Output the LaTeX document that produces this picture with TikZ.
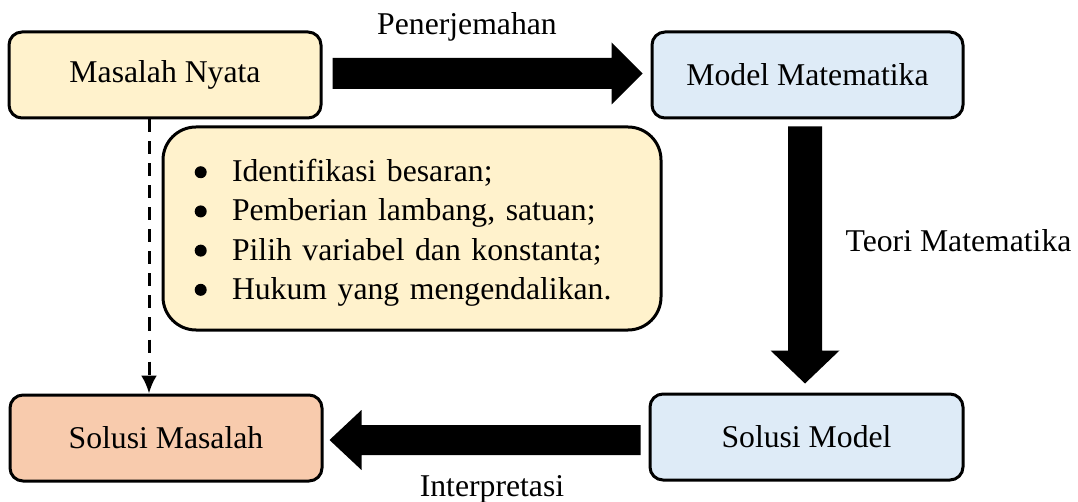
\documentclass[tikz,border=0pt]{standalone}
\usepackage{fontspec}
\setmainfont{Liberation Serif}
\usetikzlibrary{calc,arrows.meta}
\definecolor{yellowc}{HTML}{FFF2CC}
\definecolor{bluec}{HTML}{DEEBF7}
\definecolor{orangec}{HTML}{F8CBAD}
\newcommand{\bulitem}{\makebox[38.5pt][l]{\hspace{1.2pt}\tikz[baseline=0pt]{\fill[black] (0pt,9.5pt) circle[radius=6pt];}}}
\begin{document}
\begin{tikzpicture}[x=1pt,y=-1pt,
  box/.style={draw=black, line width=3pt, rounded corners=13pt, minimum width=312pt, minimum height=86pt, inner sep=0pt, font=\fontsize{31.7}{35}\selectfont},
  lbl/.style={font=\fontsize{31.7}{35}\selectfont, inner sep=0pt, anchor=base},
  fat/.style={fill=black}]
\useasboundingbox (0,0) rectangle (1078,502);
\node[box, fill=yellowc] (mn) at (165,75) {Masalah Nyata};
\node[box, fill=bluec, minimum width=311pt] (mm) at (807.5,75) {Model Matematika};
\node[box, fill=bluec, minimum width=313pt] (sm) at (806.5,437) {Solusi Model};
\node[box, fill=orangec] (ss) at (166,438) {Solusi Masalah};
\node[draw=black, line width=3pt, fill=yellowc, rounded corners=33pt, minimum width=498pt, minimum height=203pt, inner xsep=30.5pt, inner ysep=0pt, text width=437pt, align=left, font=\fontsize{31.7}{39.2}\selectfont] (bx) at (412,228.5)
  {\rule{0pt}{30.9pt}\bulitem Identifikasi besaran;\\
   \bulitem Pemberian lambang, satuan;\\
   \bulitem Pilih variabel dan konstanta;\\
   \bulitem Hukum yang mengendalikan.};
% right fat arrow
\coordinate (r1) at ($(mn.east)+(10,-1.5)$);
\coordinate (r2) at ($(mm.west)+(-8,-1.5)$);
\fill[fat] ($(r1)+(0,-15.5)$) -- ($(r2)+(-31,-15.5)$) -- ($(r2)+(-31,-31)$) -- (r2) -- ($(r2)+(-31,31)$) -- ($(r2)+(-31,15.5)$) -- ($(r1)+(0,15.5)$) -- cycle;
% down fat arrow
\coordinate (d1) at ($(mm.south)+(-2.5,7)$);
\coordinate (d2) at ($(sm.north)+(-1.5,-9)$);
\fill[fat] ($(d1)+(-17,0)$) -- ($(d2)+(-17,-33)$) -- ($(d2)+(-34.5,-33)$) -- (d2) -- ($(d2)+(34.5,-33)$) -- ($(d2)+(17,-33)$) -- ($(d1)+(17,0)$) -- cycle;
% left fat arrow
\coordinate (l1) at ($(sm.west)+(-8,3)$);
\coordinate (l2) at ($(ss.east)+(6,2)$);
\fill[fat] ($(l1)+(0,-15)$) -- ($(l2)+(32,-15)$) -- ($(l2)+(32,-30)$) -- (l2) -- ($(l2)+(32,30)$) -- ($(l2)+(32,15)$) -- ($(l1)+(0,15)$) -- cycle;
% dashed arrow
\draw[line width=3pt, dash pattern=on 13pt off 9pt, -{Latex[length=18pt,width=16pt]}] ($(mn.south)+(-16,0)$) -- ($(ss.north)+(-17,0)$);
% labels
\node[lbl] (pen) at (467,35) {Penerjemahan};
\node[lbl] (teo) at (958.5,252) {Teori Matematika};
\node[lbl] (int) at (492,496) {Interpretasi};
\end{tikzpicture}
\end{document}
